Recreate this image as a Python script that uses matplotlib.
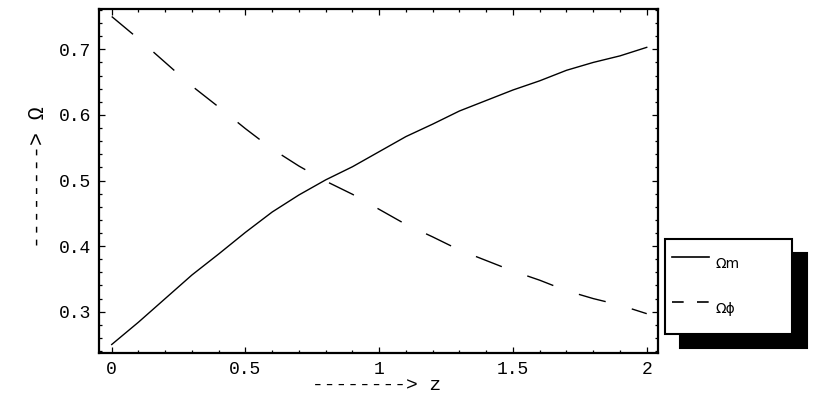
#!/usr/bin/env python3
"""Density parameters of matter and scalar field versus redshift"""

import matplotlib.pyplot as plt
from matplotlib.lines import Line2D
from matplotlib.ticker import MultipleLocator

plt.rcParams['font.family'] = ['Liberation Mono', 'DejaVu Sans Mono']

# values
z = [0.0, 0.1, 0.2, 0.3, 0.4, 0.5, 0.6, 0.7, 0.8, 0.9, 1.0,
     1.1, 1.2, 1.3, 1.4, 1.5, 1.6, 1.7, 1.8, 1.9, 2.0]
omega_m = [0.250, 0.284, 0.320, 0.356, 0.388, 0.421, 0.452, 0.478, 0.501, 0.521, 0.544,
           0.567, 0.586, 0.606, 0.622, 0.638, 0.652, 0.668, 0.680, 0.690, 0.703]
omega_phi = [0.750, 0.716, 0.680, 0.644, 0.612, 0.579, 0.548, 0.522, 0.499, 0.479, 0.456,
             0.433, 0.414, 0.394, 0.378, 0.362, 0.348, 0.332, 0.320, 0.310, 0.297]
labels = ['\u03a9m', '\u03a9\u03d5']

W, H = 830, 415
fig = plt.figure(figsize=(8.3, 4.15), dpi=100)
ax = fig.add_axes([99 / W, 1 - 352.7 / H, 558.7 / W, 343.4 / H])

ax.plot(z, omega_m, color='black', lw=1.0)
ax.plot(z, omega_phi, color='black', lw=1.0, linestyle=(0, (20, 19.5)))

ax.set_xlim(-0.0475, 2.041)
ax.set_ylim(0.2375, 0.761)
ax.xaxis.set_minor_locator(MultipleLocator(0.1))
ax.yaxis.set_minor_locator(MultipleLocator(0.02))
ax.set_xticks([0, 0.5, 1, 1.5, 2])
ax.set_xticklabels(['0', '0.5', '1', '1.5', '2'])
ax.set_yticks([0.3, 0.4, 0.5, 0.6, 0.7])
ax.set_yticklabels(['0.3', '0.4', '0.5', '0.6', '0.7'])

ax.tick_params(which='both', direction='in', top=True, right=True,
               labeltop=False, labelright=False, width=0.9, colors='black')
ax.tick_params(which='major', length=4.5, labelsize=13, pad=6)
ax.tick_params(which='minor', length=2.2)
for s in ax.spines.values():
    s.set_linewidth(1.6)

# arrow-style axis labels
fig.text(312 / W, 1 - 385 / H, '--------> z', fontsize=14, ha='left', va='center')
fig.text(38 / W, 1 - 177.5 / H, '--------> \u03a9', fontsize=15.5, rotation=90,
         ha='center', va='center')

# legend with hard black shadow
handles = [Line2D([], [], color='black', lw=1.2),
           Line2D([], [], color='black', lw=1.2, linestyle=(0, (7, 8)))]
leg = fig.legend(handles, labels, loc='upper left',
                 bbox_to_anchor=(665 / W, 1 - 334 / H, 127 / W, 95 / H),
                 mode='expand', borderaxespad=0, borderpad=0.5,
                 handlelength=2.67, handleheight=3.6, handletextpad=0.5,
                 labelspacing=0.65, fancybox=False, edgecolor='black',
                 framealpha=1, prop={'family': 'DejaVu Sans', 'size': 10},
                 shadow={'ox': 10.8, 'oy': -10.1, 'facecolor': 'black',
                         'edgecolor': 'black', 'alpha': 1})
leg.get_frame().set_linewidth(1.5)

fig.savefig('out.png', dpi=100, facecolor='white')
